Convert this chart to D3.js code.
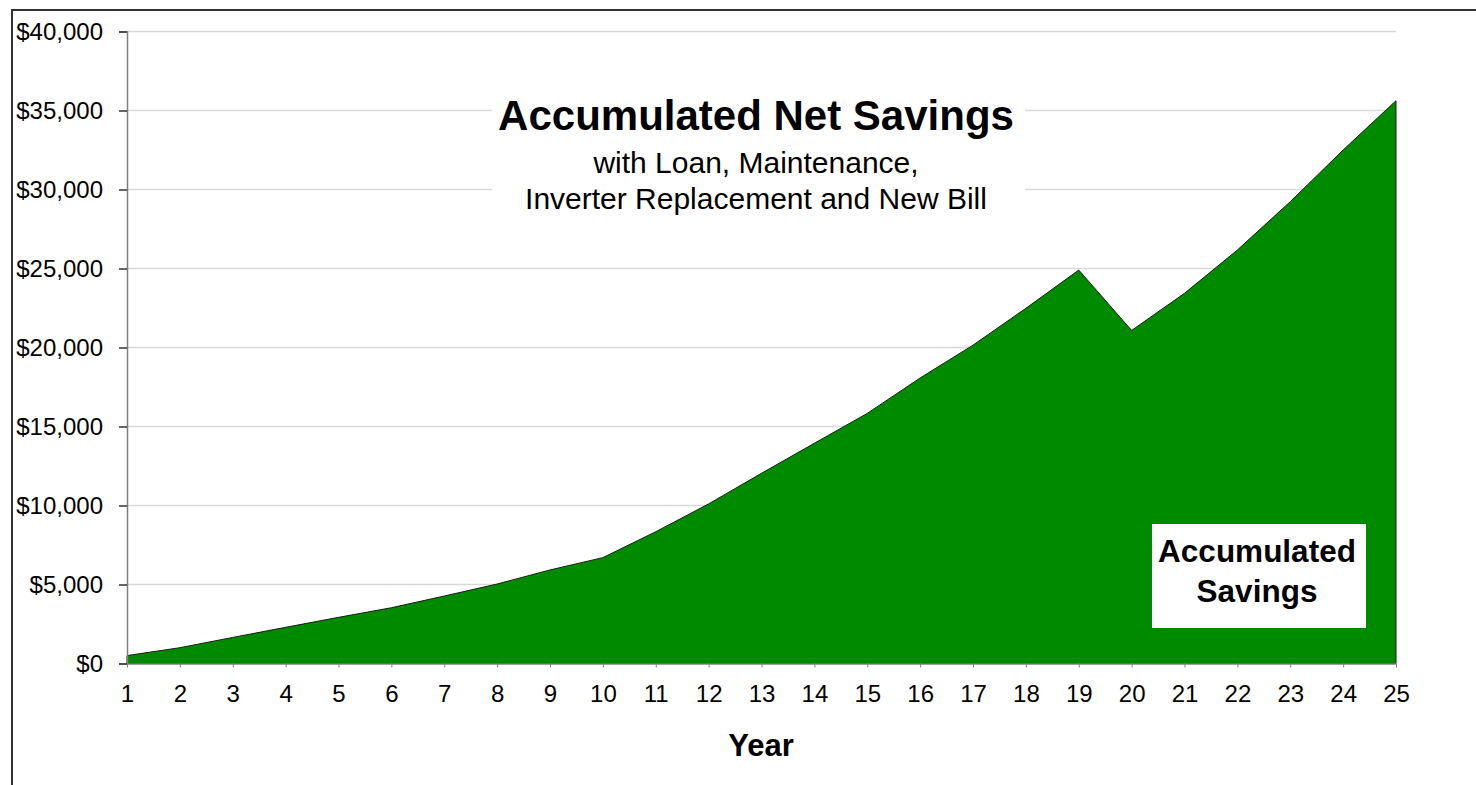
<!DOCTYPE html>
<html><head><meta charset="utf-8">
<script src="https://cdn.jsdelivr.net/npm/d3@7"></script>
<style>html,body{margin:0;padding:0;background:#fff;} svg{display:block;font-family:"Liberation Sans",Arial,sans-serif;}</style>
</head><body>
<svg id="c" width="1476" height="785"></svg>
<script>
const years = [1,2,3,4,5,6,7,8,9,10,11,12,13,14,15,16,17,18,19,20,21,22,23,24,25];
const savings = [500,1000,1650,2290,2920,3530,4270,5030,5920,6700,8340,10100,12040,13940,15830,18070,20150,22480,24900,21080,23430,26170,29230,32500,35620];
const yTicks = [0,5000,10000,15000,20000,25000,30000,35000,40000];
const titleText = "Accumulated Net Savings";
const subtitleLines = ["with Loan, Maintenance,", "Inverter Replacement and New Bill"];
const seriesLabel = ["Accumulated", "Savings"];
const xTitle = "Year";

const svg = d3.select("#c");
const x = d3.scalePoint().domain(years).range([127, 1396]).padding(0);
const y = d3.scaleLinear().domain([0, 40000]).range([663.5, 31.5]);
const fmt = v => "$" + d3.format(",")(v);

// outer border
svg.append("path").attr("d", "M12,785 V10 H1476").attr("fill","none").attr("stroke","#333").attr("stroke-width",2);

// gridlines
svg.append("g").selectAll("line").data(yTicks.filter(t=>t>0)).join("line")
  .attr("x1", 127).attr("x2", 1396).attr("y1", d=>y(d)).attr("y2", d=>y(d))
  .attr("stroke","#d9d9d9").attr("stroke-width",1.5);

// title box
svg.append("rect").attr("x",492).attr("y",90).attr("width",533).attr("height",124).attr("fill","#fff");

// area
const area = d3.area().x((d,i)=>x(years[i])).y0(y(0)).y1(d=>y(d));
svg.append("path").datum(savings).attr("d", area)
  .attr("fill","#008a00").attr("stroke","#1a1a1a").attr("stroke-width",1).attr("stroke-linejoin","miter");

// y axis
const ya = svg.append("g").attr("transform","translate(127,0)")
  .call(d3.axisLeft(y).tickValues(yTicks).tickFormat(fmt).tickSize(8).tickPadding(16));
ya.select(".domain").attr("stroke","#808080").attr("stroke-width",1.5);
ya.selectAll(".tick line").attr("stroke","#333").attr("stroke-width",1.5);
ya.selectAll("text").attr("font-size",24).attr("fill","#000").attr("font-family","Liberation Sans, Arial, sans-serif");

// x axis
const xa = svg.append("g").attr("transform",`translate(0,${y(0)})`)
  .call(d3.axisBottom(x).tickSize(4).tickPadding(17).tickSizeOuter(0));
xa.select(".domain").attr("stroke","#808080").attr("stroke-width",1.5);
xa.selectAll(".tick line").attr("stroke","#808080").attr("stroke-width",1);
xa.selectAll("text").attr("font-size",24).attr("fill","#000").attr("font-family","Liberation Sans, Arial, sans-serif");

// title
svg.append("text").attr("x",756).attr("y",130).attr("text-anchor","middle")
  .attr("font-size",42).attr("font-weight","bold").text(titleText);
svg.selectAll("text.sub").data(subtitleLines).join("text").attr("class","sub")
  .attr("x",756).attr("y",(d,i)=>173+i*36).attr("text-anchor","middle")
  .attr("font-size",30).text(d=>d);

// x title
svg.append("text").attr("x",761).attr("y",756).attr("text-anchor","middle")
  .attr("font-size",31).attr("font-weight","bold").text(xTitle);

// series label
svg.append("rect").attr("x",1152).attr("y",524).attr("width",214).attr("height",104).attr("fill","#fff");
svg.selectAll("text.sl").data(seriesLabel).join("text").attr("class","sl")
  .attr("x",1257).attr("y",(d,i)=>562+i*40).attr("text-anchor","middle")
  .attr("font-size",31.5).attr("font-weight","bold").text(d=>d);
</script>
</body></html>
